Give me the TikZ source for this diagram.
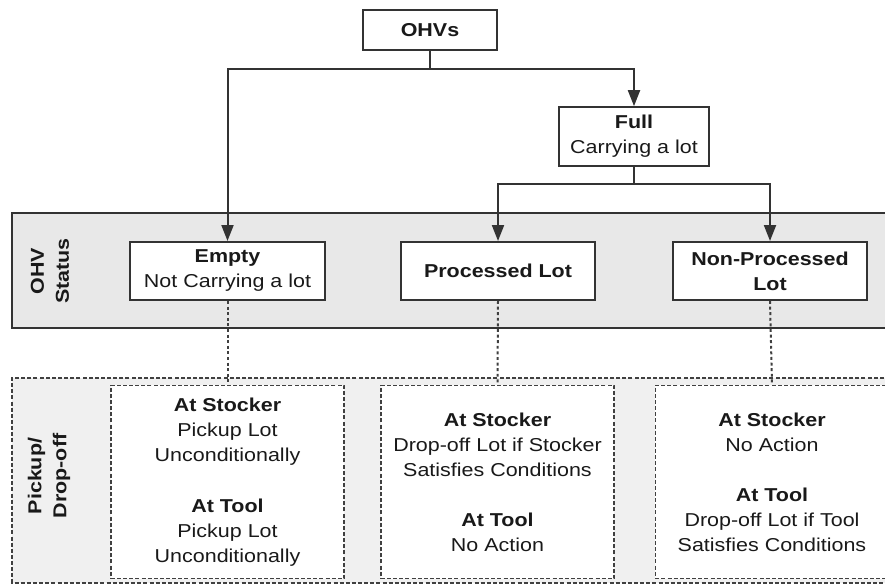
\documentclass[tikz,border=0pt]{standalone}
\usepackage{fontspec}
\setmainfont[FakeStretch=1.15]{Liberation Sans}
\usetikzlibrary{arrows.meta}
\newcommand{\bodyfont}{\fontsize{14}{18.75}\selectfont}
\tikzset{
  line/.style    = {line width=1.5pt, draw=black!80},
  arr/.style     = {line, -{Triangle[length=12pt,width=9pt]}},
  dline/.style   = {line width=1.5pt, draw=black!75, dash pattern=on 2.2pt off 2pt},
  sbox/.style    = {draw=black!80, line width=1.5pt, fill=white, align=center,
                    inner sep=0pt},
  statbox/.style = {sbox, minimum width=146pt, minimum height=43.5pt},
  actbox/.style  = {draw=black!75, line width=1.2pt, dash pattern=on 3pt off 1.6pt,
                    fill=white, align=center, inner sep=0pt,
                    minimum width=175pt, minimum height=145pt},
  sidelbl/.style = {rotate=90, align=center, font=\bodyfont\bfseries, inner sep=0pt},
}

\begin{document}
\begin{tikzpicture}[x=0.75pt, y=-0.75pt, text=black!90, font=\bodyfont]
  \useasboundingbox (0,0) rectangle (885,587);
  % bands
  \fill[black!9] (12,213) rectangle (890,328);
  \draw[line] (890,213) -- (12,213) -- (12,328) -- (890,328);
  \fill[black!6] (12,378) rectangle (890,583);
  \draw[dline, line width=1.2pt, dash pattern=on 3pt off 1.6pt]
    (890,378) -- (12,378) -- (12,583) -- (890,583);
  \node[sidelbl] (statlbl) at (50,271) {OHV\\Status};
  \node[sidelbl] (pdlbl) at (49,476) {Pickup/\\Drop-off};
  % tree
  \node[sbox, minimum width=101pt, minimum height=30pt] (ohv) at (430,30) {\textbf{OHVs}};
  \node[sbox, minimum width=112.5pt, minimum height=44pt] (full) at (634,136.5)
    {\textbf{Full}\\Carrying a lot};
  \node[statbox] (empty) at (227.5,271) {\textbf{Empty}\\Not Carrying a lot};
  \node[statbox] (proc) at (498,271) {\textbf{Processed Lot}};
  \node[statbox] (nproc) at (770,271) {\textbf{Non-Processed}\\\textbf{Lot}};
  \draw[arr] (ohv.south) -- ++(0,18) -| (empty.north);
  \draw[arr] (ohv.south) -- ++(0,18) -| (full.north);
  \draw[arr] (full.south) -- ++(0,17) -| (proc.north);
  \draw[arr] (full.south) -- ++(0,17) -| (nproc.north);
  % actions
  \node[actbox] (act1) at (227.5,482)
    {\textbf{At Stocker}\\Pickup Lot\\Unconditionally\\[19pt]
     \textbf{At Tool}\\Pickup Lot\\Unconditionally};
  \node[actbox] (act2) at (497.5,482)
    {\textbf{At Stocker}\\Drop-off Lot if Stocker\\Satisfies Conditions\\[19pt]
     \textbf{At Tool}\\No Action};
  \node[actbox] (act3) at (772,482)
    {\textbf{At Stocker}\\No Action\\[19pt]
     \textbf{At Tool}\\Drop-off Lot if Tool\\Satisfies Conditions};
  \draw[dline] (empty.south) -- (act1.north);
  \draw[dline] (proc.south) -- (act2.north);
  \draw[dline] (nproc.south) -- (act3.north);
\end{tikzpicture}
\end{document}
